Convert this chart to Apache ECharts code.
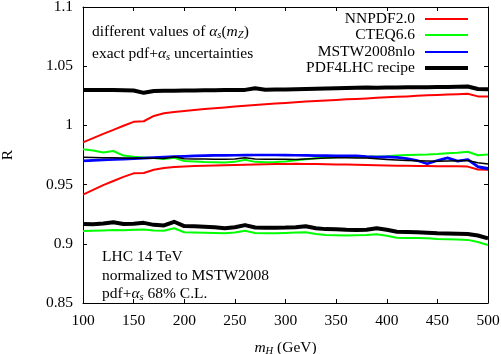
<!DOCTYPE html>
<html><head><meta charset="utf-8">
<script src="https://cdn.jsdelivr.net/npm/echarts@6/dist/echarts.min.js"></script>
<style>html,body{margin:0;padding:0;background:#fff}#c{width:501px;height:354px}</style>
</head><body><div id="c"></div>
<script>
const mH = [100,110,120,130,140,150,160,170,180,190,200,210,220,230,240,250,260,270,280,290,300,310,320,330,340,350,360,370,380,390,400,410,420,430,440,450,460,470,480,490,500];
const yTicks = ['0.85','0.9','0.95','1','1.05','1.1'];
const xTicks = ['100','150','200','250','300','350','400','450','500'];

const nnpdfUpper = [0.9857,0.9893,0.9928,0.9962,0.9997,1.0030,1.0035,1.0080,1.0102,1.0113,1.0122,1.0130,1.0138,1.0145,1.0152,1.0159,1.0165,1.0172,1.0178,1.0185,1.0190,1.0196,1.0201,1.0206,1.0210,1.0215,1.0220,1.0224,1.0228,1.0233,1.0238,1.0241,1.0245,1.0250,1.0254,1.0257,1.0260,1.0263,1.0267,1.0245,1.0245];
const nnpdfLower = [0.9415,0.9455,0.9495,0.9530,0.9565,0.9595,0.9598,0.9625,0.9640,0.9648,0.9653,0.9657,0.9660,0.9662,0.9664,0.9666,0.9668,0.9670,0.9672,0.9674,0.9675,0.9676,0.9675,0.9674,0.9672,0.9670,0.9669,0.9667,0.9666,0.9664,0.9662,0.9660,0.9659,0.9658,0.9657,0.9656,0.9655,0.9654,0.9652,0.9628,0.9625];
const cteqUpper = [0.9798,0.9788,0.9772,0.9784,0.9745,0.9735,0.9729,0.9724,0.9716,0.9726,0.9700,0.9695,0.9690,0.9688,0.9687,0.9692,0.9710,0.9692,0.9688,0.9690,0.9695,0.9705,0.9715,0.9722,0.9726,0.9730,0.9733,0.9734,0.9736,0.9738,0.9740,0.9745,0.9750,0.9752,0.9754,0.9758,0.9765,0.9770,0.9778,0.9748,0.9754];
const cteqLower = [0.9108,0.9110,0.9113,0.9117,0.9115,0.9118,0.9120,0.9113,0.9110,0.9131,0.9098,0.9096,0.9094,0.9092,0.9089,0.9095,0.9111,0.9092,0.9090,0.9090,0.9092,0.9095,0.9098,0.9082,0.9075,0.9072,0.9070,0.9072,0.9074,0.9080,0.9068,0.9052,0.9050,0.9050,0.9046,0.9041,0.9038,0.9036,0.9033,0.9015,0.8990];
const mstwUpper = [0.9703,0.9707,0.9711,0.9715,0.9719,0.9723,0.9727,0.9731,0.9735,0.9739,0.9742,0.9745,0.9747,0.9749,0.9750,0.9751,0.9752,0.9753,0.9753,0.9753,0.9752,0.9751,0.9749,0.9748,0.9747,0.9746,0.9746,0.9745,0.9739,0.9735,0.9737,0.9733,0.9723,0.9706,0.9679,0.9706,0.9729,0.9701,0.9715,0.9656,0.9640];
const mstwLower = [0.9697,0.9701,0.9705,0.9709,0.9713,0.9717,0.9721,0.9725,0.9729,0.9733,0.9736,0.9739,0.9741,0.9743,0.9744,0.9745,0.9746,0.9747,0.9747,0.9747,0.9746,0.9745,0.9743,0.9742,0.9741,0.9740,0.9740,0.9739,0.9733,0.9729,0.9731,0.9727,0.9717,0.9700,0.9673,0.9700,0.9723,0.9695,0.9709,0.9646,0.9630];
const pdf4lhcUpper = [1.0300,1.0300,1.0300,1.0298,1.0297,1.0295,1.0275,1.0290,1.0292,1.0293,1.0294,1.0295,1.0296,1.0297,1.0298,1.0299,1.0300,1.0313,1.0302,1.0303,1.0304,1.0306,1.0308,1.0310,1.0312,1.0314,1.0316,1.0318,1.0320,1.0319,1.0320,1.0321,1.0322,1.0322,1.0323,1.0324,1.0325,1.0326,1.0328,1.0307,1.0305];
const pdf4lhcCentral = [0.9730,0.9729,0.9727,0.9726,0.9724,0.9723,0.9722,0.9722,0.9721,0.9736,0.9718,0.9717,0.9716,0.9715,0.9714,0.9716,0.9726,0.9717,0.9715,0.9714,0.9714,0.9713,0.9716,0.9720,0.9724,0.9726,0.9726,0.9725,0.9724,0.9718,0.9712,0.9708,0.9704,0.9701,0.9699,0.9698,0.9699,0.9701,0.9703,0.9685,0.9673];
const pdf4lhcLower = [0.9168,0.9166,0.9172,0.9182,0.9168,0.9170,0.9177,0.9160,0.9155,0.9186,0.9150,0.9148,0.9145,0.9140,0.9132,0.9140,0.9158,0.9138,0.9136,0.9136,0.9137,0.9140,0.9148,0.9132,0.9124,0.9122,0.9118,0.9117,0.9118,0.9131,0.9118,0.9102,0.9100,0.9097,0.9094,0.9090,0.9088,0.9085,0.9082,0.9070,0.9046];

const names = ['NNPDF2.0','CTEQ6.6','MSTW2008nlo','PDF4LHC recipe'];
const colors = ['#ff0000','#00ff00','#0000ff','#000000'];

const FONT = 'Liberation Serif';
const FS = 15.5;
const chart = echarts.init(document.getElementById('c'), null, {renderer:'canvas'});
const pair = ys => mH.map((x,i)=>[x, ys[i]]);
function line(name, ys, color, width, z){
  return {name, type:'line', data:pair(ys), showSymbol:false, symbol:'none', animation:false,
    lineStyle:{color, width, join:'round'}, itemStyle:{color}, z};
}
const series = [
  line(names[0], nnpdfUpper, colors[0], 2, 2),
  line(names[0], nnpdfLower, colors[0], 2, 2),
  line(names[1], cteqUpper, colors[1], 2, 3),
  line(names[1], cteqLower, colors[1], 2, 3),
  line(names[2], mstwUpper, colors[2], 2, 4),
  line(names[2], mstwLower, colors[2], 2, 4),
  line(names[3], pdf4lhcUpper, colors[3], 4, 5),
  line(names[3], pdf4lhcLower, colors[3], 4, 5),
  line('PDF4LHC central', pdf4lhcCentral, colors[3], 1.5, 5)
];
const legendTops = [11, 27, 44, 60];
const legends = names.map((n,i)=>({
  data:[n], orient:'vertical', align:'right', right:33, top:legendTops[i], padding:0,
  icon:'rect', itemWidth:43, itemHeight: i===3 ? 4 : 2.2, selectedMode:false,
  textStyle:{fontFamily:FONT, fontSize:FS, color:'#000', padding:[0,5,0,0], lineHeight:16}
}));
const tickStyle = {show:true, inside:true, length:4, lineStyle:{color:'#000', width:1}};
const axisLine = {show:true, onZero:false, lineStyle:{color:'#000', width:1}};
const lab = {fontFamily:FONT, fontSize:FS, color:'#000'};
const it = {fontFamily:FONT, fontSize:FS, fontStyle:'italic', color:'#000', lineHeight:18, verticalAlign:'middle'};
const rm = {fontFamily:FONT, fontSize:FS, color:'#000', lineHeight:18, verticalAlign:'middle'};
const sub = {fontFamily:FONT, fontSize:10.5, fontStyle:'italic', color:'#000', lineHeight:10, verticalAlign:'bottom'};
const richSet = {g:it, s:sub, r:rm};
chart.setOption({
  animation:false,
  backgroundColor:'#fff',
  grid:{left:83, right:13, top:7, bottom:51, containLabel:false, outerBoundsMode:'none'},
  legend: legends,
  xAxis:[
    {type:'value', min:100, max:500, interval:50, position:'bottom',
     axisLine, axisTick:tickStyle, splitLine:{show:false},
     axisLabel:{...lab, margin:10, formatter:v=>xTicks[Math.round((v-100)/50)] ?? String(v)},
     name:'{g|m}{s|H}{r| (GeV)}', nameLocation:'middle', nameGap:36,
     nameTextStyle:{rich:richSet, lineHeight:18}},
    {type:'value', min:100, max:500, interval:50, position:'top',
     axisLine, axisTick:tickStyle, axisLabel:{show:false}, splitLine:{show:false}}
  ],
  yAxis:[
    {type:'value', min:0.85, max:1.1, interval:0.05, position:'left',
     axisLine, axisTick:tickStyle, splitLine:{show:false},
     axisLabel:{...lab, margin:10, formatter:v=>yTicks[Math.round((v-0.85)/0.05)] ?? String(v)},
     name:'R', nameLocation:'middle', nameGap:67, nameRotate:90,
     nameTextStyle:{...lab}},
    {type:'value', min:0.85, max:1.1, interval:0.05, position:'right',
     axisLine, axisTick:tickStyle, axisLabel:{show:false}, splitLine:{show:false}}
  ],
  series,
  graphic:[
    {type:'text', left:92, top:23, z:10, style:{
      text:'{r|different values of }{g|α}{s|s}{r|(}{g|m}{s|Z}{r|)}', font:FS+'px "Liberation Serif"', fill:'#000', lineHeight:18, rich:richSet}},
    {type:'text', left:92, top:45, z:10, style:{
      text:'{r|exact pdf+}{g|α}{s|s}{r| uncertainties}', font:FS+'px "Liberation Serif"', fill:'#000', lineHeight:18, rich:richSet}},
    {type:'text', left:102, top:248, z:10, style:{text:'{r|LHC 14 TeV}', font:FS+'px "Liberation Serif"', fill:'#000', lineHeight:18, rich:richSet}},
    {type:'text', left:102, top:267, z:10, style:{text:'{r|normalized to MSTW2008}', font:FS+'px "Liberation Serif"', fill:'#000', lineHeight:18, rich:richSet}},
    {type:'text', left:102, top:285, z:10, style:{
      text:'{r|pdf+}{g|α}{s|s}{r| 68% C.L.}', font:FS+'px "Liberation Serif"', fill:'#000', lineHeight:18, rich:richSet}}
  ]
});
</script></body></html>
